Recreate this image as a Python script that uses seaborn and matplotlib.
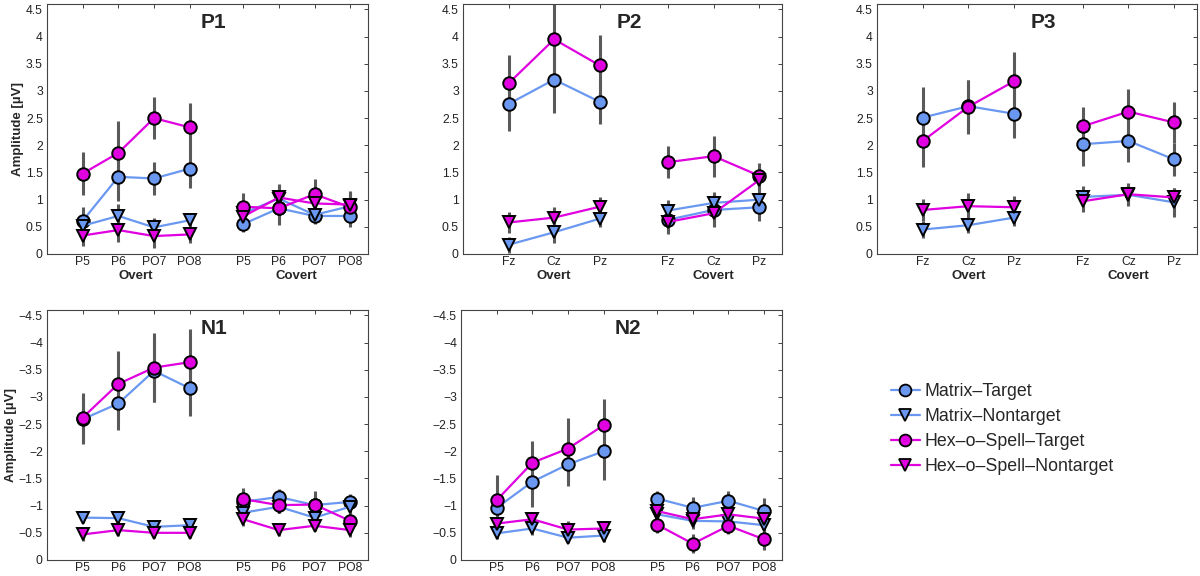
import numpy as np
import pandas as pd
import matplotlib
matplotlib.use("Agg")
import matplotlib.pyplot as plt
from matplotlib.lines import Line2D
from matplotlib.ticker import FixedLocator, FuncFormatter
import matplotlib.transforms as mtransforms
import seaborn as sns

# ---------------- data ----------------
series_names = ["Matrix–Target", "Matrix–Nontarget", "Hex–o–Spell–Target", "Hex–o–Spell–Nontarget"]
parietal_labels = ["P5", "P6", "PO7", "PO8"]
midline_labels = ["Fz", "Cz", "Pz"]
group_names = ["Overt", "Covert"]

# P1 (overt 4 values, covert 4 values)
p1_matrix_target = [0.61, 1.42, 1.39, 1.57, 0.55, 0.84, 0.70, 0.70]
p1_matrix_nontarget = [0.52, 0.70, 0.49, 0.62, 0.75, 1.02, 0.72, 0.88]
p1_hex_target = [1.48, 1.86, 2.50, 2.33, 0.87, 0.84, 1.10, 0.86]
p1_hex_nontarget = [0.34, 0.44, 0.33, 0.36, 0.69, 1.04, 0.93, 0.91]
p1_err_matrix_target = [0.25, 0.45, 0.30, 0.36, 0.15, 0.25, 0.15, 0.20]
p1_err_matrix_nontarget = [0.20, 0.22, 0.18, 0.14, 0.15, 0.25, 0.15, 0.20]
p1_err_hex_target = [0.40, 0.58, 0.38, 0.44, 0.25, 0.30, 0.28, 0.28]
p1_err_hex_nontarget = [0.20, 0.22, 0.22, 0.16, 0.20, 0.25, 0.20, 0.25]

# P2 (overt 3, covert 3)
p2_matrix_target = [2.76, 3.21, 2.80, 0.63, 0.81, 0.86]
p2_matrix_nontarget = [0.17, 0.40, 0.65, 0.80, 0.94, 1.00]
p2_hex_target = [3.14, 3.95, 3.47, 1.69, 1.80, 1.44]
p2_hex_nontarget = [0.58, 0.67, 0.87, 0.59, 0.75, 1.36]
p2_err_matrix_target = [0.50, 0.61, 0.40, 0.25, 0.30, 0.26]
p2_err_matrix_nontarget = [0.15, 0.19, 0.15, 0.20, 0.20, 0.20]
p2_err_hex_target = [0.53, 0.75, 0.56, 0.30, 0.38, 0.24]
p2_err_hex_nontarget = [0.20, 0.20, 0.18, 0.22, 0.25, 0.20]

# P3
p3_matrix_target = [2.51, 2.72, 2.58, 2.02, 2.08, 1.74]
p3_matrix_nontarget = [0.45, 0.53, 0.67, 1.05, 1.09, 0.95]
p3_hex_target = [2.08, 2.71, 3.18, 2.35, 2.62, 2.42]
p3_hex_nontarget = [0.81, 0.88, 0.86, 0.97, 1.10, 1.04]
p3_err_matrix_target = [0.56, 0.48, 0.44, 0.40, 0.38, 0.31]
p3_err_matrix_nontarget = [0.15, 0.15, 0.15, 0.20, 0.20, 0.26]
p3_err_hex_target = [0.48, 0.50, 0.53, 0.36, 0.41, 0.38]
p3_err_hex_nontarget = [0.21, 0.25, 0.21, 0.20, 0.20, 0.18]

# N1
n1_matrix_target = [-2.59, -2.88, -3.48, -3.16, -1.07, -1.16, -1.01, -1.07]
n1_matrix_nontarget = [-0.78, -0.77, -0.61, -0.64, -0.87, -0.98, -0.78, -0.98]
n1_hex_target = [-2.62, -3.24, -3.54, -3.64, -1.12, -1.01, -1.02, -0.72]
n1_hex_nontarget = [-0.47, -0.55, -0.50, -0.50, -0.75, -0.55, -0.63, -0.55]
n1_err_matrix_target = [0.45, 0.49, 0.57, 0.51, 0.20, 0.15, 0.20, 0.15]
n1_err_matrix_nontarget = [0.10, 0.10, 0.08, 0.08, 0.12, 0.12, 0.10, 0.12]
n1_err_hex_target = [0.46, 0.60, 0.64, 0.61, 0.20, 0.15, 0.25, 0.20]
n1_err_hex_nontarget = [0.12, 0.10, 0.10, 0.10, 0.12, 0.10, 0.10, 0.12]

# N2
n2_matrix_target = [-0.96, -1.44, -1.76, -2.00, -1.13, -0.96, -1.09, -0.90]
n2_matrix_nontarget = [-0.49, -0.58, -0.41, -0.45, -0.84, -0.72, -0.71, -0.64]
n2_hex_target = [-1.10, -1.79, -2.05, -2.48, -0.65, -0.30, -0.63, -0.38]
n2_hex_nontarget = [-0.67, -0.75, -0.56, -0.58, -0.90, -0.75, -0.84, -0.76]
n2_err_matrix_target = [0.30, 0.46, 0.40, 0.53, 0.14, 0.20, 0.18, 0.25]
n2_err_matrix_nontarget = [0.10, 0.12, 0.10, 0.12, 0.15, 0.15, 0.15, 0.15]
n2_err_hex_target = [0.46, 0.40, 0.57, 0.48, 0.15, 0.18, 0.15, 0.20]
n2_err_hex_nontarget = [0.12, 0.14, 0.15, 0.14, 0.15, 0.15, 0.15, 0.15]

panel_titles = ["P1", "P2", "P3", "N1", "N2"]

# ---------------- style ----------------
sns.set_theme(style="white")
plt.rcParams["font.family"] = ["Liberation Sans", "DejaVu Sans"]

BLUE = "#6A98F0"
MAGENTA = "#E000E0"
palette = {series_names[0]: BLUE, series_names[1]: BLUE,
           series_names[2]: MAGENTA, series_names[3]: MAGENTA}
markers = {series_names[0]: "o", series_names[1]: "v",
           series_names[2]: "o", series_names[3]: "v"}

fig = plt.figure(figsize=(12, 5.76), dpi=100)
W, H = 1200, 576


def add_ax(left, top, width, height):
    return fig.add_axes([left / W, 1 - (top + height) / H, width / W, height / H])


def fmt(v, pos):
    if abs(v) < 1e-9:
        return "0"
    s = "%g" % v
    return s.replace("-", "\u2212")


def draw_panel(ax, title, labels, vals, errs, negative, ylabel, group_labels):
    n = len(labels)
    xs = list(np.arange(1, n + 1)) + list(np.arange(n + 1.5, 2 * n + 1.5))
    rows = []
    for name, v in zip(series_names, vals):
        for i, (x, y) in enumerate(zip(xs, v)):
            rows.append({"x": x, "y": y, "series": name, "group": 0 if i < n else 1})
    df = pd.DataFrame(rows)
    # error bars
    for v, e in zip(vals, errs):
        ax.errorbar(xs, v, yerr=e, fmt="none", ecolor="#5a5a5a", elinewidth=2.2,
                    capsize=0, zorder=1)
    for name in series_names:
        sub = df[df["series"] == name]
        sns.lineplot(data=sub, x="x", y="y", units="group", estimator=None,
                     color=palette[name], marker=markers[name], markersize=9,
                     markeredgecolor="black", markeredgewidth=1.4, linewidth=1.6,
                     legend=False, ax=ax, zorder=3)
    ax.set_xlim(0, 2 * n + 1)
    if negative:
        ax.set_ylim(0, -4.6)
        ticks = -np.arange(0, 4.51, 0.5)
    else:
        ax.set_ylim(0, 4.6)
        ticks = np.arange(0, 4.51, 0.5)
    ax.yaxis.set_major_locator(FixedLocator(ticks))
    ax.yaxis.set_major_formatter(FuncFormatter(fmt))
    ax.set_xticks(xs)
    ax.set_xticklabels(labels * 2)
    ax.tick_params(axis="both", which="major", direction="in", length=3, width=0.6,
                   labelsize=8.7, colors="#222222", top=True, right=True,
                   pad=3)
    ax.tick_params(axis="x", pad=1.5)
    for sp in ax.spines.values():
        sp.set_color("#444444")
        sp.set_linewidth(0.8)
    ax.set_xlabel("")
    ax.set_ylabel(ylabel, fontsize=9.5, fontweight="bold", labelpad=1 if ylabel else 0)
    ax.text(0.52, 0.925, title, transform=ax.transAxes, ha="center", va="center",
            fontsize=15, fontweight="bold")
    if group_labels:
        trans = mtransforms.blended_transform_factory(ax.transData, ax.transAxes)
        centers = [(1 + n) / 2, (n + 1.5 + 2 * n + 0.5) / 2]
        for c, g in zip(centers, group_names):
            ax.text(c, -0.088, g, transform=trans, ha="center", va="center",
                    fontsize=9.5, fontweight="bold")


ax1 = add_ax(47, 4, 321, 250)
draw_panel(ax1, panel_titles[0], parietal_labels,
           [p1_matrix_target, p1_matrix_nontarget, p1_hex_target, p1_hex_nontarget],
           [p1_err_matrix_target, p1_err_matrix_nontarget, p1_err_hex_target, p1_err_hex_nontarget],
           False, "Amplitude [\u00b5V]", True)

ax2 = add_ax(463, 4, 319, 250)
draw_panel(ax2, panel_titles[1], midline_labels,
           [p2_matrix_target, p2_matrix_nontarget, p2_hex_target, p2_hex_nontarget],
           [p2_err_matrix_target, p2_err_matrix_nontarget, p2_err_hex_target, p2_err_hex_nontarget],
           False, "", True)

ax3 = add_ax(877, 4, 320, 250)
draw_panel(ax3, panel_titles[2], midline_labels,
           [p3_matrix_target, p3_matrix_nontarget, p3_hex_target, p3_hex_nontarget],
           [p3_err_matrix_target, p3_err_matrix_nontarget, p3_err_hex_target, p3_err_hex_nontarget],
           False, "", True)

ax4 = add_ax(47, 310, 321, 250)
draw_panel(ax4, panel_titles[3], parietal_labels,
           [n1_matrix_target, n1_matrix_nontarget, n1_hex_target, n1_hex_nontarget],
           [n1_err_matrix_target, n1_err_matrix_nontarget, n1_err_hex_target, n1_err_hex_nontarget],
           True, "Amplitude [\u00b5V]", False)

ax5 = add_ax(461, 310, 321, 250)
draw_panel(ax5, panel_titles[4], parietal_labels,
           [n2_matrix_target, n2_matrix_nontarget, n2_hex_target, n2_hex_nontarget],
           [n2_err_matrix_target, n2_err_matrix_nontarget, n2_err_hex_target, n2_err_hex_nontarget],
           True, "", False)

handles = [Line2D([0], [0], color=palette[s], marker=markers[s], markersize=8.5,
                  markeredgecolor="black", markeredgewidth=1.3, linewidth=1.6)
           for s in series_names]
fig.legend(handles, series_names, loc="upper left",
           bbox_to_anchor=(884 / W, 1 - 376 / H), frameon=False, fontsize=12.8,
           handlelength=1.6, handletextpad=0.3, labelspacing=0.45, borderaxespad=0)

fig.savefig("out.png", dpi=100)
